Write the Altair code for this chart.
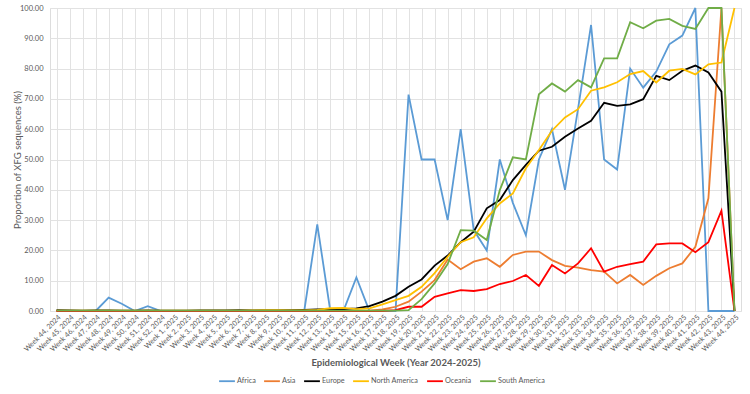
import altair as alt
import pandas as pd

weeks = [f"Week {w}, 2024" for w in range(44, 53)] + [f"Week {w}, 2025" for w in range(1, 45)]

regions = ["Africa", "Asia", "Europe", "North America", "Oceania", "South America"]
colors = ["#5B9BD5", "#ED7D31", "#000000", "#FFC000", "#FF0000", "#70AD47"]

africa = [0, 0, 0, 0, 4.4, 2.4, 0, 1.6, 0, 0, 0, 0, 0, 0, 0, 0, 0, 0, 0, 0,
          28.6, 0, 0, 11.1, 0, 0, 0, 71.4, 50, 50, 30, 60, 26.7, 20, 50, 35.7, 25, 50, 60, 40,
          66.7, 94.4, 50, 46.7, 80, 73.7, 79, 88, 90.9, 100, 0, 0, 0]
asia = [0, 0, 0, 0, 0, 0, 0, 0, 0, 0, 0, 0, 0, 0, 0, 0, 0, 0, 0, 0,
        0, 0, 0, 0, 0.1, 0.5, 1.4, 3.1, 6.4, 10.2, 17.0, 13.8, 16.3, 17.4, 14.6, 18.5, 19.6, 19.6, 16.8, 14.9,
        14.3, 13.5, 13.0, 9.1, 11.9, 8.6, 11.6, 14.1, 15.7, 21.2, 37.2, 100, 0]
europe = [0.3, 0.2, 0.1, 0.2, 0.2, 0.1, 0.1, 0.2, 0.1, 0.1, 0.1, 0.2, 0.2, 0.2, 0.3, 0.2, 0.3, 0.3, 0.3, 0.4,
          0.5, 0.6, 0.6, 0.9, 1.6, 3.1, 5.0, 8.0, 10.4, 15.0, 18.3, 22.7, 26.2, 33.9, 36.6, 43.2, 48.2, 52.9, 54.2, 57.5,
          60.2, 62.8, 68.7, 67.7, 68.2, 69.9, 77.6, 76.2, 79.3, 81.0, 78.7, 72.4, 0]
north_america = [0.1, 0.1, 0.1, 0.1, 0.1, 0.1, 0.1, 0.1, 0.1, 0.1, 0.1, 0.1, 0.1, 0.1, 0.1, 0.2, 0.3, 0.3, 0.2, 0.2,
                 0.4, 0.9, 1.0, 0.6, 0.9, 2.2, 3.6, 5.0, 8.0, 12.5, 17.9, 22.7, 24.3, 30.6, 35.5, 38.8, 47.1, 53.1, 59.5, 63.9,
                 66.6, 72.7, 73.8, 75.5, 78.2, 79.2, 75.4, 79.3, 79.9, 78.1, 81.4, 82.0, 100]
oceania = [0, 0, 0, 0, 0, 0, 0, 0, 0, 0, 0, 0, 0, 0, 0, 0, 0, 0, 0, 0,
           0, 0, 0, 0, 0, 0, 0.3, 1.4, 1.4, 4.7, 5.8, 6.9, 6.6, 7.2, 8.9, 9.9, 11.9, 8.3, 15.2, 12.4,
           15.7, 20.7, 13.0, 14.6, 15.5, 16.3, 22.0, 22.3, 22.3, 19.4, 22.7, 33.1, 0]
south_america = [0.1, 0.1, 0.1, 0.1, 0.1, 0.1, 0.1, 0.1, 0.1, 0.1, 0.1, 0.1, 0.1, 0.1, 0.1, 0.1, 0.1, 0.1, 0.1, 0.1,
                 0.1, 0.1, 0.1, 0.1, 0.1, 0.1, 0.1, 0.3, 3.9, 9.1, 15.5, 26.7, 26.5, 23.4, 39.9, 50.7, 50.0, 71.5, 75.1, 72.4,
                 76.2, 73.8, 83.4, 83.4, 95.3, 93.3, 95.8, 96.4, 94.1, 93.1, 100, 100, 0]

series = [africa, asia, europe, north_america, oceania, south_america]
rows = []
for r, vals in zip(regions, series):
    for w, v in zip(weeks, vals):
        rows.append({"week": w, "region": r, "value": v})
df = pd.DataFrame(rows)

FONT = "Lato"
TXT = "#595959"

chart = alt.Chart(df).mark_line(strokeWidth=1.8).encode(
    x=alt.X("week:N", sort=weeks,
            scale=alt.Scale(type="point", padding=0.5),
            axis=alt.Axis(title="Epidemiological Week (Year 2024-2025)", labelAngle=-45,
                          labelFontSize=7.2, labelColor=TXT, labelFont=FONT,
                          titleFont=FONT, titleFontSize=9.5, titleFontWeight="bold",
                          titleColor=TXT, titlePadding=5, ticks=False, domain=False,
                          grid=True, gridColor="#e2e2e2", labelPadding=2)),
    y=alt.Y("value:Q", scale=alt.Scale(domain=[0, 100], nice=False),
            axis=alt.Axis(title="Proportion of XFG sequences (%)", format=".2f",
                          values=list(range(0, 101, 10)), labelFontSize=7.5,
                          labelColor=TXT, labelFont=FONT, titleFont=FONT,
                          titleFontSize=9.5, titleFontWeight="normal", titleColor=TXT,
                          titlePadding=-3, ticks=False, domain=False,
                          gridColor="#e2e2e2", labelPadding=7)),
    color=alt.Color("region:N", sort=regions,
                    scale=alt.Scale(domain=regions, range=colors),
                    legend=alt.Legend(title=None, orient="none", direction="horizontal",
                                      legendX=168, legendY=364, symbolType="stroke",
                                      symbolStrokeWidth=1.8, symbolSize=250,
                                      labelFontSize=7.3, labelColor=TXT, labelFont=FONT,
                                      columnPadding=4, symbolOffset=0, labelOffset=1)),
    order=alt.Order("region:N"),
).properties(
    width=691, height=303,
    autosize=alt.AutoSizeParams(type="none"),
    padding={"left": 50, "top": 8, "right": 9, "bottom": 83},
).configure_view(
    fill="#f4f4f4", stroke=None
).configure(background="white")

chart.save("out.html", embed_options={"renderer": "svg", "actions": False})
